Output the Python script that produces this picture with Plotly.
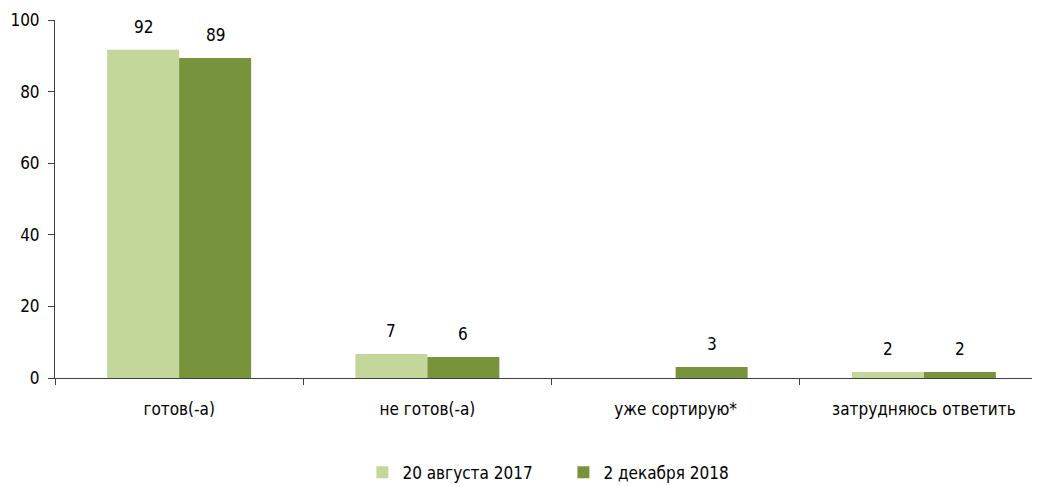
import plotly.graph_objects as go

categories = ["готов(-а)", "не готов(-а)", "уже сортирую*", "затрудняюсь ответить"]
series_names = ["20 августа 2017", "2 декабря 2018"]
values_2017 = [91.7, 6.7, None, 1.7]
values_2018 = [89.4, 5.9, 3.1, 1.7]
y_ticks = [0, 20, 40, 60, 80, 100]

colors = ["#C4D79B", "#77933C"]
FONT = "DejaVu Sans Condensed"
FS = 17

fig = go.Figure()
for name, vals, col in zip(series_names, [values_2017, values_2018], colors):
    fig.add_trace(go.Bar(x=categories, y=vals, name=name, marker_color=col,
                         marker_line_width=0))

# value labels above the bars
for offset, vals in zip([-36, 36], [values_2017, values_2018]):
    for c, v in zip(categories, vals):
        if v is None:
            continue
        fig.add_annotation(x=c, y=v, text=str(round(v)), showarrow=False,
                           xshift=offset, yshift=11, yanchor="bottom",
                           font=dict(family=FONT, size=FS, color="#000000"))

fig.update_layout(
    width=1040, height=486,
    margin=dict(l=47, r=0, t=12, b=116),
    barmode="group", bargap=0.42, bargroupgap=0,
    plot_bgcolor="white", paper_bgcolor="white",
    font=dict(family=FONT, size=FS, color="#000000"),
    showlegend=True,
    legend=dict(orientation="h", x=0.512, xanchor="center", y=-0.214, yanchor="top",
                font=dict(family=FONT, size=FS), entrywidth=156,
                entrywidthmode="pixels", traceorder="normal"),
)
fig.update_xaxes(range=[-0.5, 3.5], showline=True, linecolor="#404040", linewidth=1,
                 ticks="outside", tickson="boundaries", ticklen=6, tickcolor="#404040",
                 showgrid=False, tickfont=dict(family=FONT, size=FS), automargin=False,
                 ticklabelstandoff=16)
fig.update_yaxes(range=[0, 100], tickvals=y_ticks, showline=True, linecolor="#404040",
                 linewidth=1, ticks="outside", ticklen=6, tickcolor="#404040",
                 showgrid=False, zeroline=False, tickfont=dict(family=FONT, size=FS),
                 automargin=False, ticklabelstandoff=5)

fig.write_html("out.html")
